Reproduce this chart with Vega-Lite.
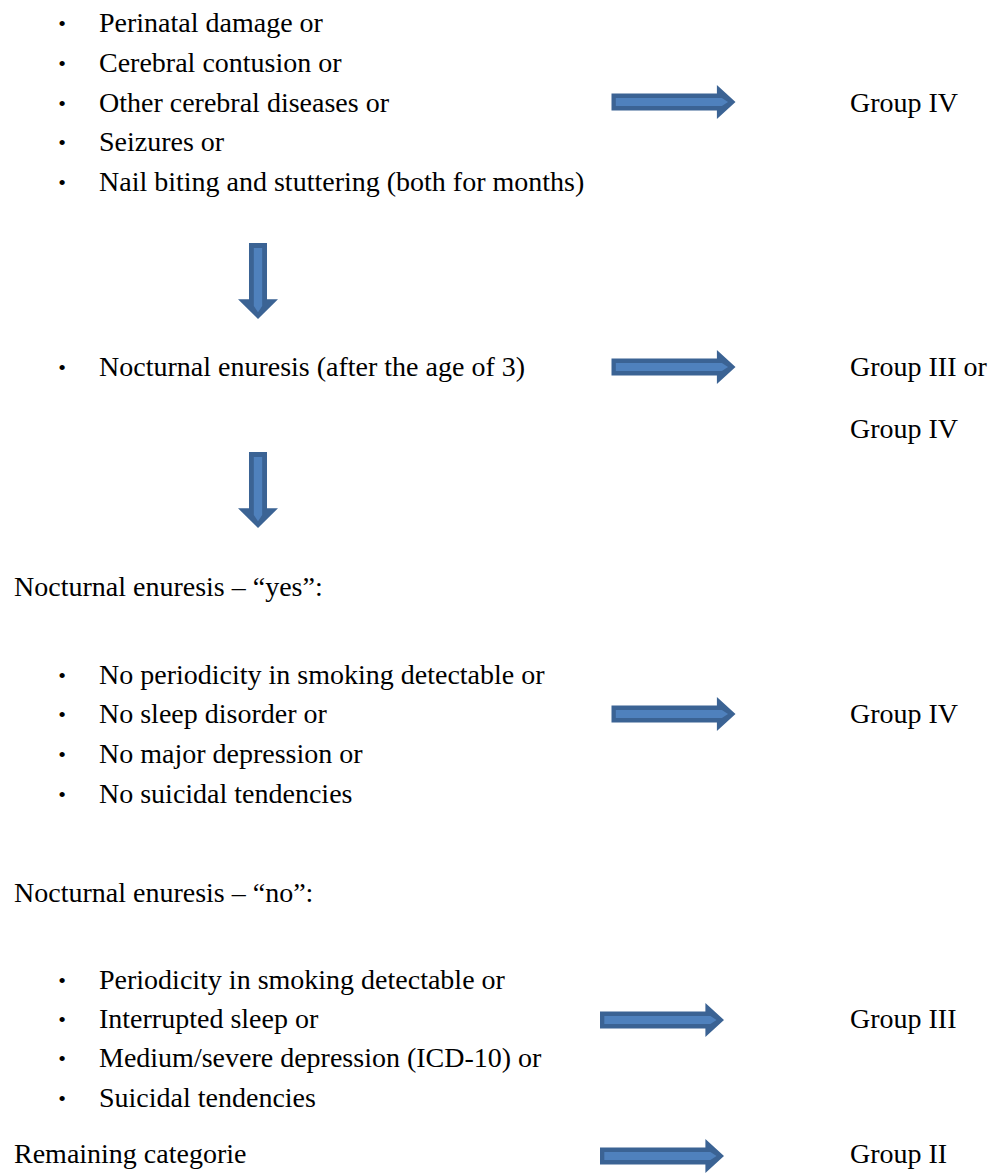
{
  "$schema": "https://vega.github.io/schema/vega-lite/v6.json",
  "width": 1001,
  "height": 1174,
  "autosize": {"type": "fit", "contains": "padding"},
  "padding": 0,
  "background": "white",
  "datasets": {
    "arrows": [
      {"x": 673.5, "y": 102, "dir": "right"},
      {"x": 673.5, "y": 367, "dir": "right"},
      {"x": 673.5, "y": 714, "dir": "right"},
      {"x": 662, "y": 1020, "dir": "right"},
      {"x": 662, "y": 1156, "dir": "right"},
      {"x": 258, "y": 281, "dir": "down"},
      {"x": 258, "y": 490, "dir": "down"}
    ],
    "labels": [
      {"x": 62, "y": 24, "text": "•", "kind": "bullet"},
      {"x": 62, "y": 64, "text": "•", "kind": "bullet"},
      {"x": 62, "y": 104, "text": "•", "kind": "bullet"},
      {"x": 62, "y": 143, "text": "•", "kind": "bullet"},
      {"x": 62, "y": 183, "text": "•", "kind": "bullet"},
      {"x": 62, "y": 368, "text": "•", "kind": "bullet"},
      {"x": 62, "y": 676, "text": "•", "kind": "bullet"},
      {"x": 62, "y": 715, "text": "•", "kind": "bullet"},
      {"x": 62, "y": 755, "text": "•", "kind": "bullet"},
      {"x": 62, "y": 795, "text": "•", "kind": "bullet"},
      {"x": 62, "y": 981, "text": "•", "kind": "bullet"},
      {"x": 62, "y": 1020, "text": "•", "kind": "bullet"},
      {"x": 62, "y": 1059, "text": "•", "kind": "bullet"},
      {"x": 62, "y": 1099, "text": "•", "kind": "bullet"},
      {"x": 99, "y": 24, "text": "Perinatal damage or", "kind": "text"},
      {"x": 99, "y": 64, "text": "Cerebral contusion or", "kind": "text"},
      {"x": 99, "y": 104, "text": "Other cerebral diseases or", "kind": "text"},
      {"x": 99, "y": 143, "text": "Seizures or", "kind": "text"},
      {"x": 99, "y": 183, "text": "Nail biting and stuttering (both for months)", "kind": "text"},
      {"x": 850, "y": 104, "text": "Group IV", "kind": "text"},
      {"x": 99, "y": 368, "text": "Nocturnal enuresis (after the age of 3)", "kind": "text"},
      {"x": 850, "y": 368, "text": "Group III or", "kind": "text"},
      {"x": 850, "y": 430, "text": "Group IV", "kind": "text"},
      {"x": 14, "y": 588, "text": "Nocturnal enuresis – “yes”:", "kind": "text"},
      {"x": 99, "y": 676, "text": "No periodicity in smoking detectable or", "kind": "text"},
      {"x": 99, "y": 715, "text": "No sleep disorder or", "kind": "text"},
      {"x": 99, "y": 755, "text": "No major depression or", "kind": "text"},
      {"x": 99, "y": 795, "text": "No suicidal tendencies", "kind": "text"},
      {"x": 850, "y": 715, "text": "Group IV", "kind": "text"},
      {"x": 14, "y": 894, "text": "Nocturnal enuresis – “no”:", "kind": "text"},
      {"x": 99, "y": 981, "text": "Periodicity in smoking detectable or", "kind": "text"},
      {"x": 99, "y": 1020, "text": "Interrupted sleep or", "kind": "text"},
      {"x": 99, "y": 1059, "text": "Medium/severe depression (ICD-10) or", "kind": "text"},
      {"x": 99, "y": 1099, "text": "Suicidal tendencies", "kind": "text"},
      {"x": 850, "y": 1020, "text": "Group III", "kind": "text"},
      {"x": 14, "y": 1155, "text": "Remaining categorie", "kind": "text"},
      {"x": 850, "y": 1155, "text": "Group II", "kind": "text"}
    ]
  },
  "encoding": {
    "x": {"field": "x", "type": "quantitative", "scale": {"domain": [0, 1001], "nice": false, "zero": false}, "axis": null},
    "y": {"field": "y", "type": "quantitative", "scale": {"domain": [0, 1174], "nice": false, "zero": false, "reverse": true}, "axis": null}
  },
  "layer": [
    {
      "description": "right arrows, dark outline",
      "data": {"name": "arrows"},
      "transform": [{"filter": "datum.dir == 'right'"}],
      "mark": {
        "type": "point", "filled": true, "opacity": 1, "size": 15376, "color": "#3b6394",
        "shape": "M-1,-0.137 L0.70,-0.137 L0.70,-0.274 L1,0 L0.70,0.274 L0.70,0.137 L-1,0.137 Z"
      }
    },
    {
      "description": "right arrows, lighter inner stripe",
      "data": {"name": "arrows"},
      "transform": [{"filter": "datum.dir == 'right'"}],
      "mark": {
        "type": "point", "filled": true, "opacity": 1, "size": 15376, "color": "#4f81bd",
        "shape": "M-0.93,-0.065 L0.78,-0.065 L0.88,0 L0.78,0.065 L-0.93,0.065 Z"
      }
    },
    {
      "description": "down arrows, dark outline",
      "data": {"name": "arrows"},
      "transform": [{"filter": "datum.dir == 'down'"}],
      "mark": {
        "type": "point", "filled": true, "opacity": 1, "size": 5776, "angle": 90, "color": "#3b6394",
        "shape": "M-1,-0.237 L0.48,-0.237 L0.48,-0.526 L1,0 L0.48,0.526 L0.48,0.237 L-1,0.237 Z"
      }
    },
    {
      "description": "down arrows, lighter inner stripe",
      "data": {"name": "arrows"},
      "transform": [{"filter": "datum.dir == 'down'"}],
      "mark": {
        "type": "point", "filled": true, "opacity": 1, "size": 5776, "angle": 90, "color": "#4f81bd",
        "shape": "M-0.87,-0.11 L0.66,-0.11 L0.82,0 L0.66,0.11 L-0.87,0.11 Z"
      }
    },
    {
      "data": {"name": "labels"},
      "transform": [{"filter": "datum.kind == 'text'"}],
      "mark": {"type": "text", "align": "left", "baseline": "middle", "font": "Liberation Serif", "fontSize": 28, "color": "black"},
      "encoding": {"text": {"field": "text", "type": "nominal"}}
    },
    {
      "data": {"name": "labels"},
      "transform": [{"filter": "datum.kind == 'bullet'"}],
      "mark": {"type": "text", "align": "center", "baseline": "middle", "font": "Liberation Serif", "fontSize": 22, "color": "black"},
      "encoding": {"text": {"field": "text", "type": "nominal"}}
    }
  ],
  "config": {"view": {"stroke": null}}
}
